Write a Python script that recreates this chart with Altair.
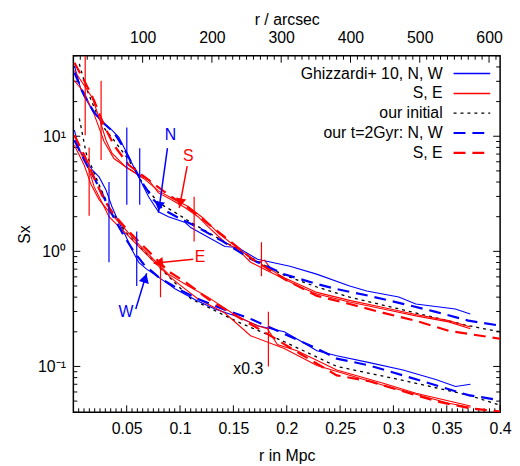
import altair as alt
import pandas as pd

FONT = "Liberation Sans"
BLUE = "#0000ff"
RED = "#ff0000"
W, H = 431, 360

# ---------------- data: r in Mpc, Sx ----------------
# upper group (N blue, S red)
n_obs_r = [0.001, 0.0074, 0.0176, 0.0269, 0.0362, 0.0427, 0.052, 0.0613, 0.0705, 0.0798, 0.0891, 0.1049, 0.110,
           0.142, 0.1541, 0.1726, 0.203, 0.228, 0.259, 0.275, 0.305, 0.321, 0.358, 0.372]
n_obs_S = [40.9, 24.9, 16.8, 13.2, 11.3, 9.8, 6.59, 4.43, 2.98, 2.21, 2.0, 1.78, 1.61,
           1.10, 1.08, 0.853, 0.743, 0.634, 0.50, 0.452, 0.401, 0.349, 0.316, 0.286]

s_obs_r = [0.001, 0.0176, 0.0241, 0.0306, 0.0362, 0.0492, 0.0585, 0.0705, 0.0798, 0.0919, 0.1049, 0.1169, 0.1262,
           0.142, 0.1541, 0.1661, 0.1791, 0.1977, 0.2125, 0.2283, 0.2589, 0.2905, 0.3211, 0.3517, 0.3722]
s_obs_S = [37.1, 21.7, 14.6, 9.24, 7.13, 5.4, 4.8, 4.18, 3.22, 2.81, 2.39, 2.0, 1.64,
           1.20, 1.04, 0.804, 0.70, 0.574, 0.49, 0.426, 0.363, 0.316, 0.275, 0.244, 0.213]
s_obs2_r = [0.001, 0.0102, 0.0195, 0.0288, 0.038, 0.052, 0.0659, 0.0798, 0.0937, 0.1077, 0.1216, 0.1355, 0.1494,
            0.1633, 0.1726, 0.1791, 0.1865, 0.1977, 0.2283, 0.2589, 0.2905, 0.3211, 0.3517, 0.3722]
s_obs2_S = [30.4, 24.0, 15.5, 9.0, 6.4, 5.2, 4.3, 3.35, 2.85, 2.45, 1.95, 1.45, 1.15,
            0.92, 0.80, 0.84, 0.68, 0.59, 0.44, 0.375, 0.325, 0.283, 0.25, 0.22]

n_mod_r = [0.001, 0.0102, 0.0195, 0.0288, 0.038, 0.0473, 0.0566, 0.0659, 0.0752, 0.0845, 0.0984, 0.1169, 0.1401,
           0.1661, 0.1977, 0.2283, 0.2469, 0.2775, 0.309, 0.3397, 0.3703, 0.4]
n_mod_S = [35.7, 22.6, 16.1, 12.9, 10.8, 7.9, 5.4, 3.78, 2.81, 2.30, 1.96, 1.61, 1.22,
           0.86, 0.633, 0.52, 0.47, 0.41, 0.35, 0.298, 0.25, 0.226]

s_mod_r = [0.001, 0.0102, 0.0195, 0.0288, 0.038, 0.052, 0.0705, 0.0891, 0.1077, 0.1262, 0.1448, 0.168, 0.1977,
           0.2283, 0.2589, 0.2905, 0.3211, 0.3517, 0.4]
s_mod_S = [43.5, 30.4, 20.4, 12.4, 8.36, 5.62, 4.18, 3.1, 2.39, 1.74, 1.27, 0.853, 0.574,
           0.41, 0.349, 0.292, 0.249, 0.204, 0.174]

init_up_r = [0.0056, 0.012, 0.0195, 0.0269, 0.038, 0.052, 0.0659, 0.0798, 0.0956, 0.1104, 0.1262, 0.1541, 0.1819,
             0.1977, 0.2283, 0.2589, 0.309, 0.3703, 0.4]
init_up_S = [42.5, 26.3, 17.8, 12.4, 9.24, 6.21, 3.78, 2.64, 2.17, 1.78, 1.46, 1.04, 0.73,
             0.62, 0.49, 0.40, 0.31, 0.226, 0.2]

# lower group, scaled x0.3 (W blue, E red)
w_obs_r = [0.001, 0.0056, 0.012, 0.0176, 0.0241, 0.0306, 0.0362, 0.0427, 0.0492, 0.0548, 0.0613, 0.0687, 0.0798,
           0.0956, 0.1142, 0.1327, 0.1541, 0.1726, 0.1977, 0.2125, 0.2283, 0.2469, 0.2775, 0.309, 0.3397, 0.3582,
           0.3722]
w_obs_S = [11.3, 7.57, 6.21, 5.09, 4.43, 3.42, 2.44, 1.78, 1.35, 1.04, 0.80, 0.70, 0.597,
           0.47, 0.379, 0.316, 0.27, 0.226, 0.2, 0.167, 0.137, 0.124, 0.108, 0.093, 0.077, 0.067,
           0.07]

e_obs_r = [0.001, 0.0056, 0.0148, 0.0195, 0.0241, 0.0288, 0.0334, 0.0427, 0.052, 0.0613, 0.0705, 0.0798, 0.0919,
           0.1049, 0.1169, 0.142, 0.1661, 0.1977, 0.2283, 0.2589, 0.2905, 0.3211, 0.3517, 0.3722]
e_obs_S = [9.24, 7.57, 5.09, 3.63, 2.98, 2.44, 2.0, 1.64, 1.35, 1.10, 0.905, 0.743, 0.585,
           0.47, 0.386, 0.291, 0.185, 0.143, 0.102, 0.0837, 0.0686, 0.0574, 0.0479, 0.0442]
e_obs2_r = [0.001, 0.0102, 0.0167, 0.0241, 0.0334, 0.0473, 0.0613, 0.0752, 0.0891, 0.1077, 0.1262, 0.1541, 0.1726,
            0.1819, 0.1912, 0.2097, 0.2469, 0.2905, 0.3211, 0.3722]
e_obs2_S = [8.35, 5.6, 3.78, 2.81, 2.21, 1.61, 1.15, 0.853, 0.634, 0.5, 0.4, 0.27, 0.226,
            0.213, 0.155, 0.137, 0.093, 0.0714, 0.0584, 0.0453]

w_mod_r = [0.001, 0.0102, 0.0195, 0.0288, 0.038, 0.0473, 0.0566, 0.0659, 0.0798, 0.0984, 0.1169, 0.1401, 0.1661,
           0.1977, 0.2283, 0.2469, 0.2775, 0.309, 0.3397, 0.3703, 0.4]
w_mod_S = [9.24, 6.21, 4.35, 2.92, 1.96, 1.37, 1.0, 0.773, 0.597, 0.47, 0.386, 0.316, 0.259,
           0.192, 0.143, 0.117, 0.102, 0.0836, 0.0686, 0.0563, 0.0509]

e_mod_r = [0.001, 0.0102, 0.0195, 0.0288, 0.038, 0.052, 0.0705, 0.0891, 0.1077, 0.1262, 0.1541, 0.1819, 0.2125,
           0.2469, 0.2775, 0.309, 0.3397, 0.3703, 0.4]
e_mod_S = [10.2, 6.86, 4.35, 2.81, 2.08, 1.49, 1.0, 0.672, 0.52, 0.386, 0.27, 0.192, 0.129,
           0.0837, 0.0743, 0.0608, 0.05, 0.0435, 0.0405]

init_lo_r = [0.0056, 0.012, 0.0241, 0.0334, 0.0492, 0.0798, 0.1104, 0.1541, 0.1977, 0.2469, 0.309, 0.3703, 0.4]
init_lo_S = [14.3, 7.1, 3.78, 2.44, 1.46, 0.74, 0.386, 0.244, 0.164, 0.1, 0.0757, 0.0563, 0.046]

# error bars
eb_r = [0.0111, 0.026, 0.0148, 0.1132, 0.0817, 0.1763, 0.1828, 0.0334, 0.0501, 0.0594, 0.0622]
eb_lo = [10.2, 6.21, 2.04, 1.22, 0.40, 0.609, 0.10, 0.804, 2.54, 0.50, 2.54]
eb_hi = [50, 30.4, 8.0, 2.98, 0.804, 1.20, 0.298, 4.01, 11.9, 1.49, 7.87]
eb_col = [RED] * 7 + [BLUE] * 4

# annotations
ann_text = ["N", "S", "E", "W", "x0.3"]
ann_r = [0.091, 0.1077, 0.1188, 0.0492, 0.164]
ann_S = [10.2, 6.72, 0.888, 0.298, 0.094]
ann_col = [BLUE, RED, RED, BLUE, "black"]

arr_r0 = [0.0882, 0.1067, 0.1123, 0.0585]
arr_S0 = [7.9, 5.5, 0.853, 0.316]
arr_r1 = [0.0798, 0.0993, 0.0752, 0.0687]
arr_S1 = [2.17, 2.39, 0.788, 0.646]
head_r = [0.0805, 0.1002, 0.0798, 0.0673]
head_S = [2.46, 2.64, 0.796, 0.585]
head_ang = [188, 191, 264, 17]
arr_col = [BLUE, RED, RED, BLUE]

# axes ticks
x_major = [0.05, 0.1, 0.15, 0.2, 0.25, 0.3, 0.35, 0.4]
x_minor = [round(0.005 * k, 3) for k in range(1, 80) if k % 10 != 0]
arc_major = [100, 200, 300, 400, 500, 600]
arc_minor = [10 * k for k in range(1, 62) if k % 10 != 0]
y_major = [0.1, 1, 10]
y_minor = [0.04, 0.05, 0.06, 0.07, 0.08, 0.09, 0.2, 0.3, 0.4, 0.5, 0.6, 0.7, 0.8, 0.9,
           2, 3, 4, 5, 6, 7, 8, 9, 20, 30, 40, 50]

legend_labels = ["Ghizzardi+ 10, N, W", "S, E", "our initial", "our t=2Gyr: N, W", "S, E"]

# ---------------- chart ----------------
xs = alt.Scale(domain=[0, 0.4], nice=False, zero=False)
ys = alt.Scale(type="log", domain=[0.04, 50], nice=False)
arcs = alt.Scale(domain=[0, 616], nice=False, zero=False)

def line(r, S, color, width, dash=None):
    df = pd.DataFrame({"r": r, "S": S, "i": list(range(len(r)))})
    kw = dict(color=color, strokeWidth=width, clip=True)
    if dash:
        kw["strokeDash"] = dash
    return alt.Chart(df).mark_line(**kw).encode(
        x=alt.X("r:Q", scale=xs, axis=None),
        y=alt.Y("S:Q", scale=ys, axis=None),
        order="i:Q")

DASH = [12, 7]
DOT = [3, 4]
MAJ, MIN = 7, 4
layers = []

# y axis with labels (first layer) + inward ticks
ylab = "datum.value < 0.5 ? '10\u207b\u00b9' : (datum.value < 5 ? '10\u2070' : '10\u00b9')"
layers.append(alt.Chart(pd.DataFrame({"S": y_major})).mark_rule(color="black", strokeWidth=1).encode(
    y=alt.Y("S:Q", scale=ys, axis=alt.Axis(
        values=y_major, labelExpr=ylab, ticks=False, domain=False, grid=False,
        labelFont=FONT, labelFontSize=16, labelColor="black", labelPadding=8,
        title="Sx", titleFont=FONT, titleFontSize=16, titleFontWeight="normal",
        titleColor="black", titlePadding=5)),
    x=alt.value(0), x2=alt.value(MAJ)))
layers.append(alt.Chart(pd.DataFrame({"S": y_minor})).mark_rule(color="black", strokeWidth=1).encode(
    y=alt.Y("S:Q", scale=ys, axis=None), x=alt.value(0), x2=alt.value(MIN)))
layers.append(alt.Chart(pd.DataFrame({"S": y_major})).mark_rule(color="black", strokeWidth=1).encode(
    y=alt.Y("S:Q", scale=ys, axis=None), x=alt.value(W), x2=alt.value(W - MAJ)))
layers.append(alt.Chart(pd.DataFrame({"S": y_minor})).mark_rule(color="black", strokeWidth=1).encode(
    y=alt.Y("S:Q", scale=ys, axis=None), x=alt.value(W), x2=alt.value(W - MIN)))

# bottom axis with labels + inward ticks
layers.append(alt.Chart(pd.DataFrame({"r": x_major})).mark_rule(color="black", strokeWidth=1).encode(
    x=alt.X("r:Q", scale=xs, axis=alt.Axis(
        values=x_major, format="~g", ticks=False, domain=False, grid=False, labelFlush=False,
        labelOverlap=False, labelFont=FONT, labelFontSize=16, labelColor="black", labelPadding=8,
        title="r in Mpc", titleFont=FONT, titleFontSize=16, titleFontWeight="normal",
        titleColor="black", titlePadding=12)),
    y=alt.value(H), y2=alt.value(H - MAJ)))
layers.append(alt.Chart(pd.DataFrame({"r": x_minor})).mark_rule(color="black", strokeWidth=1).encode(
    x=alt.X("r:Q", scale=xs, axis=None), y=alt.value(H), y2=alt.value(H - MIN)))

# top (arcsec) axis
layers.append(alt.Chart(pd.DataFrame({"a": arc_major})).mark_rule(color="black", strokeWidth=1).encode(
    x=alt.X("a:Q", scale=arcs, axis=alt.Axis(
        orient="top", values=arc_major, format="d", ticks=False, domain=False, grid=False,
        labelFlush=False, labelOverlap=False, labelFont=FONT, labelFontSize=16, labelColor="black",
        labelPadding=10, title="r / arcsec", titleFont=FONT, titleFontSize=16,
        titleFontWeight="normal", titleColor="black", titlePadding=3)),
    y=alt.value(0), y2=alt.value(MAJ)))
layers.append(alt.Chart(pd.DataFrame({"a": arc_minor})).mark_rule(color="black", strokeWidth=1).encode(
    x=alt.X("a:Q", scale=arcs, axis=None), y=alt.value(0), y2=alt.value(MIN)))

# profiles
layers += [
    line(init_up_r, init_up_S, "black", 1.3, DOT),
    line(init_lo_r, init_lo_S, "black", 1.3, DOT),
    line(n_obs_r, n_obs_S, BLUE, 1.1),
    line(s_obs_r, s_obs_S, RED, 1.1),
    line(s_obs2_r, s_obs2_S, RED, 1.1),
    line(w_obs_r, w_obs_S, BLUE, 1.1),
    line(e_obs_r, e_obs_S, RED, 1.1),
    line(e_obs2_r, e_obs2_S, RED, 1.1),
    line(n_mod_r, n_mod_S, BLUE, 2.2, DASH),
    line(s_mod_r, s_mod_S, RED, 2.2, DASH),
    line(w_mod_r, w_mod_S, BLUE, 2.2, DASH),
    line(e_mod_r, e_mod_S, RED, 2.2, DASH),
]

eb_df = pd.DataFrame({"r": eb_r, "lo": eb_lo, "hi": eb_hi, "c": eb_col})
layers.append(alt.Chart(eb_df).mark_rule(strokeWidth=1.2, clip=True).encode(
    x=alt.X("r:Q", scale=xs, axis=None),
    y=alt.Y("lo:Q", scale=ys, axis=None), y2="hi:Q",
    color=alt.Color("c:N", scale=None)))

arr_df = pd.DataFrame({"r0": arr_r0, "S0": arr_S0, "r1": arr_r1, "S1": arr_S1, "c": arr_col})
layers.append(alt.Chart(arr_df).mark_rule(strokeWidth=1.5).encode(
    x=alt.X("r0:Q", scale=xs, axis=None), x2="r1:Q",
    y=alt.Y("S0:Q", scale=ys, axis=None), y2="S1:Q",
    color=alt.Color("c:N", scale=None)))
head_df = pd.DataFrame({"r": head_r, "S": head_S, "a": head_ang, "c": arr_col})
layers.append(alt.Chart(head_df).mark_point(shape="triangle-up", filled=True, size=110, opacity=1).encode(
    x=alt.X("r:Q", scale=xs, axis=None),
    y=alt.Y("S:Q", scale=ys, axis=None),
    angle=alt.Angle("a:Q", scale=None),
    color=alt.Color("c:N", scale=None)))

ann_df = pd.DataFrame({"r": ann_r, "S": ann_S, "t": ann_text, "c": ann_col})
layers.append(alt.Chart(ann_df).mark_text(font=FONT, fontSize=16, baseline="middle", align="center").encode(
    x=alt.X("r:Q", scale=xs, axis=None),
    y=alt.Y("S:Q", scale=ys, axis=None),
    text="t:N",
    color=alt.Color("c:N", scale=None)))

# manual legend (labels right-aligned, keys to the right)
leg_styles = [(BLUE, 1.5, None), (RED, 1.5, None), ("black", 1.3, DOT), (BLUE, 2.2, DASH), (RED, 2.2, DASH)]
for k, (lab, (c, w, d)) in enumerate(zip(legend_labels, leg_styles)):
    yy = 18 + 20 * k
    one = pd.DataFrame({"t": [lab]})
    layers.append(alt.Chart(one).mark_text(font=FONT, fontSize=16, align="right", baseline="middle",
                                           color="black").encode(
        text="t:N", x=alt.value(373), y=alt.value(yy)))
    kw = dict(color=c, strokeWidth=w)
    if d:
        kw["strokeDash"] = d
    layers.append(alt.Chart(one).mark_rule(**kw).encode(
        x=alt.value(384), x2=alt.value(421), y=alt.value(yy)))

chart = alt.layer(*layers).resolve_scale(x="independent", y="independent").properties(
    width=W, height=H,
    padding={"left": 66, "top": 46, "right": 12, "bottom": 50},
    autosize=alt.AutoSizeParams(type="none"),
).configure_view(stroke="black", strokeWidth=1.5)

chart.save("out.html", embed_options={"renderer": "svg", "actions": False})
